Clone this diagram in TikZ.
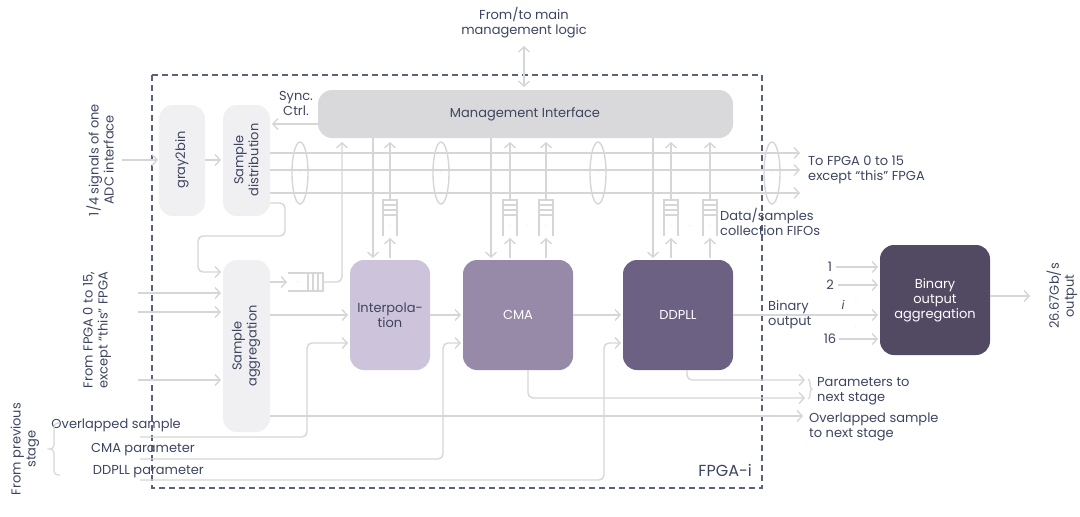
\documentclass[tikz,border=0pt]{standalone}
\usepackage{fontspec}
\setmainfont{Poppins}
\usetikzlibrary{arrows.meta,decorations.pathreplacing}
\definecolor{txt}{HTML}{3D4660}
\definecolor{ln}{HTML}{D6D6D6}
\definecolor{bx}{HTML}{F0F0F2}
\definecolor{mg}{HTML}{D9D9DB}
\definecolor{c1}{HTML}{CDC3DA}
\definecolor{c2}{HTML}{968AA8}
\definecolor{c3}{HTML}{6C6083}
\definecolor{c4}{HTML}{524963}
\begin{document}
\begin{tikzpicture}[x=1pt,y=-1pt,
  lab/.style={text=txt,font=\fontsize{13}{15}\selectfont,align=center,inner sep=0},
  labl/.style={lab,align=left,anchor=west},
  wl/.style={text=white,font=\fontsize{13}{15}\selectfont,align=center},
  con/.style={draw=ln,line width=1.4pt,-{Straight Barb[length=5pt,width=11pt]},rounded corners=5pt},
  ln/.style={draw=ln,line width=1.4pt,rounded corners=5pt},
  blk/.style={rounded corners=14pt,inner sep=0},
  fifo/.style={draw=ln,line width=1.2pt}]
\useasboundingbox (0,0) rectangle (1080,517);
% FPGA box
\draw[txt!85,dashed,dash pattern=on 6pt off 4pt,line width=1.3pt] (152,75) rectangle (762,488);
\node[lab,font=\fontsize{16}{18}\selectfont,anchor=east] (fpga) at (752,470) {FPGA-i};
% blocks
\path[blk,fill=mg] (318,90) rectangle (733,138);
\node[lab] (mgmt) at (525,114) {Management Interface};
\coordinate (mgL) at (318,124);
\path[blk,fill=bx] (159,105) rectangle (205,216);
\node[lab,rotate=90] (g2b) at (182,160) {gray2bin};
\path[blk,fill=bx] (223,105) rectangle (270,216);
\node[lab,rotate=90] (sd) at (246,160) {Sample\\distribution};
\path[blk,fill=bx] (223,260) rectangle (270,432);
\node[lab,rotate=90] (sa) at (246,346) {Sample\\aggregation};
\path[blk,fill=c1] (350,260) rectangle (430,370);
\node[lab] (interp) at (390,315) {Interpola-\\tion};
\path[blk,fill=c2] (463,260) rectangle (573,370);
\node[wl] (cma) at (518,315) {CMA};
\path[blk,fill=c3] (623,260) rectangle (733,370);
\node[wl] (ddpll) at (678,315) {DDPLL};
\path[blk,fill=c4] (880,245) rectangle (990,355);
\node[wl] (boa) at (935,300) {Binary\\output\\aggregation};
% top
\node[lab] (top) at (524,23) {From/to main\\management logic};
\draw[con,{Straight Barb[length=5pt,width=11pt]}-{Straight Barb[length=5pt,width=11pt]}] (524,46) -- (524,87);
\node[lab] (sync) at (296,103) {Sync.\\Ctrl.};
\draw[con] (mgL) -- (272,124);
% left inputs
\node[lab,rotate=90] (adc) at (100,160) {1/4 signals of one\\ADC interface};
\draw[con] (122,160) -- (158,160);
\draw[con] (205,160) -- (221,160);
% bus
\foreach \y in {153,170,193} \draw[con] (270,\y) -- (800,\y);
\foreach \x in {300,441,598,772}{
  \draw[ln] (\x,173) ellipse (8pt and 31pt);
  \node[text=ln,font=\tiny,rotate=90] at (\x,173) {...};}
\draw[con] (270,203) -- (285,203) -- (285,236) -- (198,236) -- (198,272) -- (221,272);
% FIFO horizontal
\draw[con] (270,282) -- (287,282);
\draw[fifo] (288,273) -- (323,273) -- (323,291) -- (288,291);
\foreach \x in {308,313,318} \draw[fifo] (\x,273) -- (\x,291);
\node[text=ln,font=\tiny] at (298,282) {...};
\draw[con] (323,282) -- (342,282) -- (342,142);
% vertical FIFOs
\foreach \x in {390,510,546,671,710}{
  \draw[fifo] (\x-7,236) -- (\x-7,200) -- (\x+7,200) -- (\x+7,236);
  \foreach \yy in {205,210,215} \draw[fifo] (\x-7,\yy) -- (\x+7,\yy);
  \node[text=ln,font=\tiny,rotate=90] at (\x,226) {...};
  \draw[con] (\x,200) -- (\x,142);
  \draw[con] (\x,258) -- (\x,238);}
\node[text=ln,font=\tiny] at (528,226) {...};
\node[text=ln,font=\tiny] at (690,226) {...};
\foreach \x in {373,491,653} \draw[con] (\x,138) -- (\x,258);
\node[labl] (fifos) at (720,222) {Data/samples\\collection FIFOs};
\node[labl] (tof) at (808,170) {To FPGA 0 to 15\\except “this” FPGA};
% inputs to aggregation
\node[lab,rotate=90] (from) at (97,330) {From FPGA 0 to 15,\\except “this” FPGA};
\foreach \y in {293,312,380} \draw[con] (138,\y) -- (221,\y);
% main chain
\draw[con] (270,315) -- (348,315);
\draw[con] (430,315) -- (461,315);
\draw[con] (573,315) -- (621,315);
\draw[con] (733,315) -- (878,315);
\node[labl] (bo) at (768,315) {Binary\\output};
\node[lab,font=\itshape\fontsize{12}{14}\selectfont] (ii) at (843,305) {i};
\node[lab] (n1) at (830,267) {1};
\node[lab] (n2) at (830,285) {2};
\node[lab] (n16) at (830,339) {16};
\draw[con] (n1.east)++(4,0) -- (878,267);
\draw[con] (n2.east)++(4,0) -- (878,285);
\draw[con] (n16.east)++(3,0) -- (878,339);
\node[text=ln,font=\tiny,rotate=90] at (856,300) {...};
\node[text=ln,font=\tiny,rotate=90] at (856,327) {...};
\draw[con] (990,296) -- (1030,296);
\node[lab,rotate=90] (out) at (1062,296) {26.67Gb/s\\output};
% outputs to next stage
\draw[con] (687,370) -- (687,380) -- (805,380);
\draw[con] (528,370) -- (528,398) -- (805,398);
\draw[con] (270,416) -- (803,416);
\draw[draw=ln,line width=1.2pt,decorate,decoration={brace,amplitude=4pt}] (808,379) -- (808,399);
\node[labl] (par) at (817,391) {Parameters to\\next stage};
\node[labl] (ovn) at (809,427) {Overlapped sample\\to next stage};
% from previous stage
\draw[con] (140,437) -- (307,437) -- (307,343) -- (348,343);
\draw[con] (140,459) -- (443,459) -- (443,343) -- (461,343);
\draw[con] (140,480) -- (604,480) -- (604,343) -- (621,343);
\node[lab,anchor=east] (ovs) at (181,425) {Overlapped sample};
\node[lab,anchor=east] (cmap) at (195,450) {CMA parameter};
\node[lab,anchor=east] (ddp) at (204,472) {DDPLL parameter};
\draw[draw=ln,line width=1.2pt,rounded corners=4pt] (60,423) -- (54,423) -- (54,449) -- (48,449) -- (54,449) -- (54,475) -- (60,475);
\node[lab,rotate=90] (prev) at (25,449) {From previous\\stage};
\end{tikzpicture}
\end{document}
